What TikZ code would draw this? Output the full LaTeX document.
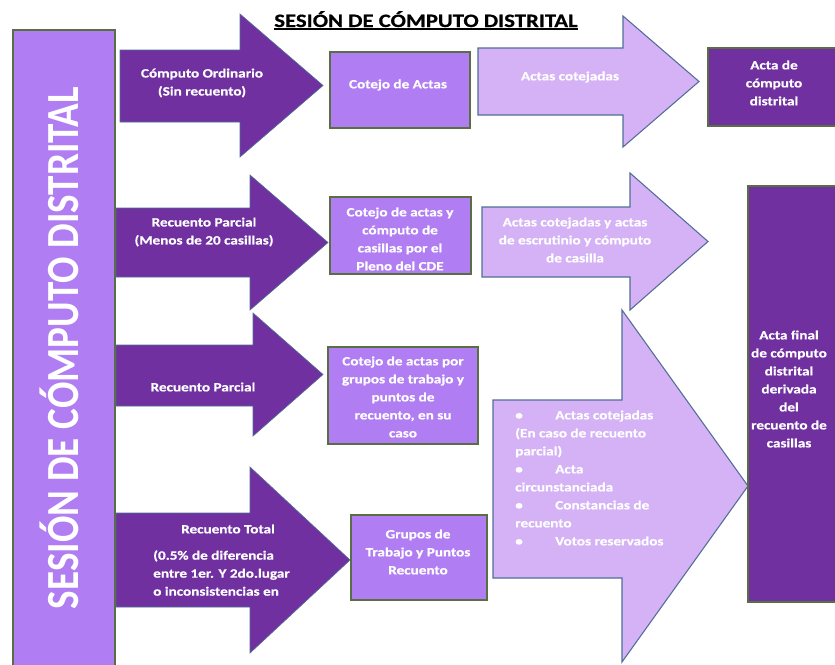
\documentclass[tikz,border=0pt]{standalone}
\usepackage{fontspec}
\setmainfont{Carlito}[FakeStretch=1.2, BoldFeatures={FakeBold=0.6}]
\newfontfamily\barfont{Carlito}[FakeStretch=0.85]
\usetikzlibrary{positioning}
\definecolor{darkpurple}{RGB}{112,48,160}
\definecolor{midpurple}{RGB}{177,125,242}
\definecolor{palepurple}{RGB}{212,178,245}
\definecolor{boxedge}{RGB}{90,110,70}
\definecolor{arrowedge}{RGB}{80,110,150}

\begin{document}
\begin{tikzpicture}[x=0.75pt, y=-0.75pt,
    darkarrow/.style={fill=darkpurple, draw=arrowedge, line width=0.5pt},
    palearrow/.style={fill=palepurple, draw=arrowedge, line width=0.8pt},
    midbox/.style={fill=midpurple, draw=boxedge, line width=1pt},
    darkbox/.style={fill=darkpurple, draw=boxedge, line width=1pt},
    txt/.style={text=white, font=\bfseries\fontsize{9.5}{13.5}\selectfont, align=center, inner sep=0pt}]
    \useasboundingbox (0,0) rectangle (835,664);

    \foreach \xa/\xb/\xc/\ya/\yb/\yc/\yd in {120/240/323/50/122/14/157, 116/250/328/208/277/175/310,
        116/253/323/345/406/313/436, 116/250/350/513/607/467/653} {
        \draw[darkarrow] (\xa,\ya) -- (\xb,\ya) -- (\xb,\yc) -- (\xc,{(\yc+\yd)/2}) -- (\xb,\yd) -- (\xb,\yb) -- (\xa,\yb) -- cycle;
    }
    \foreach \xa/\xb/\xc/\ya/\yb/\yc/\yd in {478/623/699/48/115/16/147, 482/630/708/207/277/173/310,
        493/622/748/400/578/310/662} {
        \draw[palearrow] (\xa,\ya) -- (\xb,\ya) -- (\xb,\yc) -- (\xc,{(\yc+\yd)/2}) -- (\xb,\yd) -- (\xb,\yb) -- (\xa,\yb) -- cycle;
    }

    \draw[midbox] (13,30) rectangle (115,670);
    \draw[midbox] (330,52) rectangle (470,128);
    \draw[midbox] (330,197) rectangle (471,274);
    \draw[midbox] (328,347) rectangle (478,444);
    \draw[midbox] (351,515) rectangle (487,600);
    \draw[darkbox] (708,48) rectangle (840,126);
    \draw[darkbox] (748,186) rectangle (850,602);

    \node[anchor=base, rotate=90, text=white, inner sep=0pt, font=\barfont\bfseries\fontsize{34.5}{34.5}\selectfont] (bartitle) at (78,348) {SESIÓN DE CÓMPUTO DISTRITAL};
    \node[anchor=base, inner sep=0pt, font=\bfseries\fontsize{14.2}{14.2}\selectfont] (title) at (426,27) {SESIÓN DE CÓMPUTO DISTRITAL};
    \draw[line width=0.8pt] ([yshift=-1.5pt]title.base west) -- ([yshift=-1.5pt]title.base east);

    \node[txt] (ordinario) at (202,83) {Cómputo Ordinario\\(Sin recuento)};
    \node[txt] (cotejo) at (398,85) {Cotejo de Actas};
    \node[txt] (cotejadas) at (570,77) {Actas cotejadas};
    \node[txt] (actacomputo) at (774,83) {Acta de\\cómputo\\distrital};

    \node[txt] (parcialmenos) at (204,232) {Recuento Parcial\\(Menos de 20 casillas)};
    \node[txt] (pleno) at (400,239) {Cotejo de actas y\\cómputo de\\casillas por el\\Pleno del CDE};
    \node[txt] (escrutinio) at (575,240) {Actas cotejadas y actas\\de escrutinio y cómputo\\de casilla};

    \node[txt] (parcial) at (203,387) {Recuento Parcial};
    \node[txt] (grupos) at (403,397) {Cotejo de actas por\\grupos de trabajo y\\puntos de\\recuento, en su\\caso};

    \node[txt] (total) at (228,529) {Recuento Total};
    \node[txt, anchor=west, align=left] (diferencia) at (153,573) {(0.5\% de diferencia\\entre 1er. Y 2do.lugar\\o inconsistencias en};
    \node[txt] (puntos) at (418,552) {Grupos de\\Trabajo y Puntos\\Recuento};

    \node[txt, anchor=west, align=left] (productos) at (515,478) {\makebox[30pt][l]{\textbullet}Actas cotejadas\\(En caso de recuento\\parcial)\\
        \makebox[30pt][l]{\textbullet}Acta\\circunstanciada\\\makebox[30pt][l]{\textbullet}Constancias de\\recuento\\
        \makebox[30pt][l]{\textbullet}Votos reservados};
    \node[txt] (actafinal) at (789,389) {Acta final\\de cómputo\\distrital\\derivada\\del\\recuento de\\casillas};
\end{tikzpicture}
\end{document}
